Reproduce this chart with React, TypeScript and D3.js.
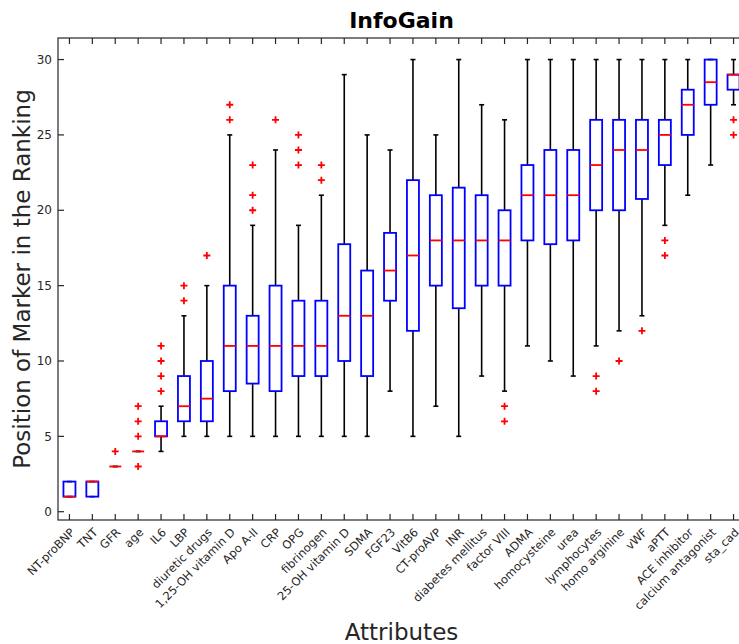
import React from "react"
import * as d3 from "d3"

const categories = [
  "NT-proBNP", "TNT", "GFR", "age", "IL6", "LBP", "diuretic drugs", "1,25-OH vitamin D",
  "Apo A-II", "CRP", "OPG", "fibrinogen", "25-OH vitamin D", "SDMA", "FGF23", "VitB6",
  "CT-proAVP", "INR", "diabetes mellitus", "factor VIII", "ADMA", "homocysteine", "urea",
  "lymphocytes", "homo arginine", "vWF", "aPTT", "ACE inhibitor", "calcium antagonist", "sta_cad",
]

// lower whisker, q1, median, q3, upper whisker
const whiskerLow = [1, 1, 3, 4, 4, 5, 5, 5, 5, 5, 5, 5, 5, 5, 8, 5, 7, 5, 9, 8, 11, 10, 9, 11, 12, 13, 19, 21, 23, 27]
const q1 = [1, 1, 3, 4, 5, 6, 6, 8, 8.5, 8, 9, 9, 10, 9, 14, 12, 15, 13.5, 15, 15, 18, 17.75, 18, 20, 20, 20.75, 23, 25, 27, 28]
const medians = [1, 2, 3, 4, 5, 7, 7.5, 11, 11, 11, 11, 11, 13, 13, 16, 17, 18, 18, 18, 18, 21, 21, 21, 23, 24, 24, 25, 27, 28.5, 29]
const q3 = [2, 2, 3, 4, 6, 9, 10, 15, 13, 15, 14, 14, 17.75, 16, 18.5, 22, 21, 21.5, 21, 20, 23, 24, 24, 26, 26, 26, 26, 28, 30, 29]
const whiskerHigh = [2, 2, 3, 4, 7, 13, 15, 25, 19, 24, 19, 21, 29, 25, 24, 30, 25, 30, 27, 26, 30, 30, 30, 30, 30, 30, 30, 30, 30, 30]
const outliers = [
  [], [], [4], [3, 5, 6, 7], [8, 9, 10, 11], [14, 15], [17], [26, 27], [20, 21, 23], [26],
  [23, 24, 25], [22, 23], [], [], [], [], [], [], [], [6, 7],
  [], [], [], [8, 9], [10], [12], [17, 18], [], [], [25, 26],
]
const yTicks = [0, 5, 10, 15, 20, 25, 30]

const W = 739
const H = 644
const left = 58
const right = 745
const top = 38
const bottom = 520
const axisColor = "#262626"
const font = "DejaVu Sans, sans-serif"

export default function App() {
  const x = d3.scaleLinear().domain([0.5, categories.length + 0.5]).range([left, right])
  const y = d3.scaleLinear().domain([-0.55, 31.43]).range([bottom, top])
  const boxHalf = 6
  const capHalf = 2.5
  const tick = 6

  return (
    <svg width={W} height={H} style={{ position: "absolute", left: 0, top: 0, background: "#fff" }} fontFamily={font}>
      <rect x={0} y={0} width={W} height={H} fill="#fff" />
      <text x={(left + right) / 2} y={28} textAnchor="middle" fontSize={22} fontWeight="bold" fill="#000">InfoGain</text>

      {/* boxes */}
      {categories.map((c, i) => {
        const cx = x(i + 1)
        return (
          <g key={c}>
            <line x1={cx} x2={cx} y1={y(q3[i])} y2={y(whiskerHigh[i])} stroke="#000" strokeWidth={1.6} />
            <line x1={cx} x2={cx} y1={y(q1[i])} y2={y(whiskerLow[i])} stroke="#000" strokeWidth={1.6} />
            <line x1={cx - capHalf} x2={cx + capHalf} y1={y(whiskerHigh[i])} y2={y(whiskerHigh[i])} stroke="#000" strokeWidth={1.6} />
            <line x1={cx - capHalf} x2={cx + capHalf} y1={y(whiskerLow[i])} y2={y(whiskerLow[i])} stroke="#000" strokeWidth={1.6} />
            <rect x={cx - boxHalf} y={y(q3[i])} width={boxHalf * 2} height={y(q1[i]) - y(q3[i])}
              fill="none" stroke="#0000ff" strokeWidth={1.8} />
            <line x1={cx - boxHalf} x2={cx + boxHalf} y1={y(medians[i])} y2={y(medians[i])} stroke="#ff0000" strokeWidth={1.8} />
            {outliers[i].map((v) => (
              <path key={v} d={`M${cx - 3.5},${y(v)}H${cx + 3.5}M${cx},${y(v) - 3.5}V${y(v) + 3.5}`}
                stroke="#ff0000" strokeWidth={1.8} fill="none" />
            ))}
          </g>
        )
      })}

      {/* axes frame */}
      <rect x={left} y={top} width={right - left} height={bottom - top} fill="none" stroke={axisColor} strokeWidth={1.2} />

      {yTicks.map((t) => (
        <g key={t}>
          <line x1={left} x2={left + tick} y1={y(t)} y2={y(t)} stroke={axisColor} strokeWidth={1.2} />
          <line x1={right} x2={right - tick} y1={y(t)} y2={y(t)} stroke={axisColor} strokeWidth={1.2} />
          <text x={left - 6} y={y(t)} dy="0.35em" textAnchor="end" fontSize={12} fill={axisColor}>{t}</text>
        </g>
      ))}

      {categories.map((c, i) => {
        const cx = x(i + 1)
        return (
          <g key={c + "-tick"}>
            <line x1={cx} x2={cx} y1={bottom} y2={bottom - tick} stroke={axisColor} strokeWidth={1.2} />
            <line x1={cx} x2={cx} y1={top} y2={top + tick} stroke={axisColor} strokeWidth={1.2} />
            <text transform={`translate(${cx + 6},${bottom + 13}) rotate(-45)`} textAnchor="end"
              fontSize={11.5} fill={axisColor}>{c}</text>
          </g>
        )
      })}

      <text transform={`translate(30,${(top + bottom) / 2}) rotate(-90)`} textAnchor="middle" fontSize={23} fill={axisColor}>
        Position of Marker in the Ranking
      </text>
      <text x={(left + right) / 2} y={640} textAnchor="middle" fontSize={23} fill={axisColor}>Attributes</text>
    </svg>
  )
}
